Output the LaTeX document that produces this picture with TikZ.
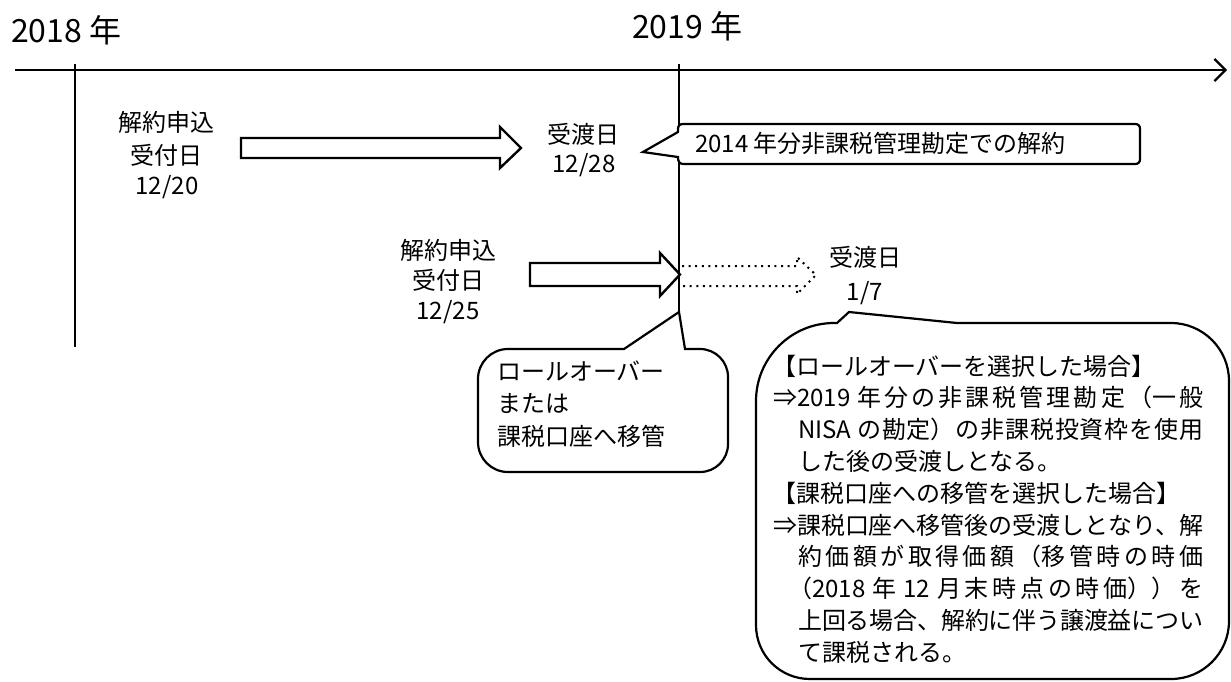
\documentclass[tikz,border=0pt]{standalone}
\usepackage{fontspec}
\setmainfont{Noto Sans CJK JP}
\usetikzlibrary{arrows.meta}
\XeTeXlinebreaklocale "ja"
\XeTeXlinebreakskip=0pt plus 6pt minus 1.5pt
\newcommand\jst[2]{\parbox[b]{#1}{\parfillskip=0pt\relax #2}}
\tikzset{
  lbl/.style={inner sep=0pt, font=\fontsize{24pt}{28pt}\selectfont, anchor=base},
  lblw/.style={lbl, anchor=base west},
  yr/.style={inner sep=0pt, font=\fontsize{32pt}{36pt}\selectfont, anchor=base west},
  blockarrow/.style={draw=black, line width=2.4pt, fill=white, line join=miter},
  dotarrow/.style={draw=black, line width=2pt, dash pattern=on 2pt off 4.6pt},
  callout/.style={draw=black, line width=2.2pt, fill=white, line join=miter},
  axis/.style={line width=2.6pt, -{Straight Barb[length=11pt,width=22pt,line width=2.2pt]}},
  tick/.style={line width=2.1pt},
}
\begin{document}
\begin{tikzpicture}[x=1pt,y=-1pt]
\useasboundingbox (0,0) rectangle (1231,681);
% timeline
\coordinate (tl0) at (15,70);
\coordinate (tl1) at (1227,70);
\draw[axis] (tl0) -- (tl1);
\coordinate (v18a) at (75,64);
\coordinate (v18b) at (75,347);
\coordinate (v19a) at (679,64);
\coordinate (v19b) at (679,312);
\draw[tick] (v18a) -- (v18b);
\draw[tick] (v19a) -- (v19b);
% year labels
\node[yr] (y18) at (11,42) {2018 年};
\node[yr] (y19) at (632,38) {2019 年};
% first request
\node[lbl] (a1l1) at (166,131) {解約申込};
\node[lbl] (a1l2) at (166,164) {受付日};
\node[lbl] (a1l3) at (167,194) {12/20};
\draw[blockarrow] (241,138) -- (500,138) -- (500,127) -- (521,148) -- (500,168) -- (500,158) -- (241,158) -- cycle;
\node[lbl] (d1l1) at (583,143) {受渡日};
\node[lbl] (d1l2) at (584,172) {12/28};
% callout 1
\draw[callout] (643,152) -- (678,157) -- (678,158)
  .. controls (678,161.3) and (679.7,164) .. (683,164) -- (1135,164)
  .. controls (1138.3,164) and (1140,162.3) .. (1140,159) -- (1140,129)
  .. controls (1140,125.7) and (1138.3,124) .. (1135,124) -- (683,124)
  .. controls (679.7,124) and (678,125.7) .. (678,129) -- (678,132) -- cycle;
\node[lblw] (c1t) at (695,152) {2014 年分非課税管理勘定での解約};
% second request
\node[lbl] (a2l1) at (448,259) {解約申込};
\node[lbl] (a2l2) at (448,289) {受付日};
\node[lbl] (a2l3) at (448,319) {12/25};
\draw[blockarrow] (530,263) -- (660,263) -- (660,253) -- (680,274.5) -- (660,296) -- (660,286) -- (530,286) -- cycle;
\draw[dotarrow] (682,266) -- (797,266) -- (797,257) -- (816,275) -- (797,294) -- (797,286) -- (682,286);
\node[lbl] (d2l1) at (865,266) {受渡日};
\node[lbl] (d2l2) at (865,300) {1/7};
% callout 2
\draw[callout] (679,312) -- (685,349) -- (700,349)
  .. controls (715.5,349) and (728,361.5) .. (728,377) -- (728,444)
  .. controls (728,459.5) and (715.5,472) .. (700,472) -- (508,472)
  .. controls (491.4,472) and (478,458.6) .. (478,442) -- (478,379)
  .. controls (478,362.4) and (491.4,349) .. (508,349) -- (624,349) -- cycle;
\node[lblw] (c2l1) at (497,380) {ロールオーバー};
\node[lblw] (c2l2) at (497,412) {または};
\node[lblw] (c2l3) at (497,445) {課税口座へ移管};
% callout 3
\draw[callout] (849,312) -- (957,323) -- (1171,323)
  .. controls (1203,323) and (1229,349) .. (1229,381) -- (1229,621)
  .. controls (1229,653) and (1203,679) .. (1171,679) -- (810,679)
  .. controls (780,679) and (756,655) .. (756,625) -- (756,401)
  .. controls (756,358) and (791,323) .. (834,323) -- (837,323) -- cycle;
\node[lblw] (c3l1) at (772,375) {【ロールオーバーを選択した場合】};
\node[lblw] (c3l2) at (773,406.8) {\jst{430pt}{⇒2019 年分の非課税管理勘定（一般}};
\node[lblw] (c3l3) at (798,438.6) {\jst{405pt}{NISA の勘定）の非課税投資枠を使用}};
\node[lblw] (c3l4) at (798,470.4) {した後の受渡しとなる。};
\node[lblw] (c3l5) at (772,502.2) {【課税口座への移管を選択した場合】};
\node[lblw] (c3l6) at (773,534) {\jst{430pt}{⇒課税口座へ移管後の受渡しとなり、解}};
\node[lblw] (c3l7) at (798,565.8) {\jst{405pt}{約価額が取得価額（移管時の時価}};
\node[lblw] (c3l8) at (788,597.6) {\jst{415pt}{（2018 年 12 月末時点の時価））を}};
\node[lblw] (c3l9) at (798,629.4) {\jst{405pt}{上回る場合、解約に伴う譲渡益につい}};
\node[lblw] (c3l10) at (798,661.2) {て課税される。};
\end{tikzpicture}
\end{document}
